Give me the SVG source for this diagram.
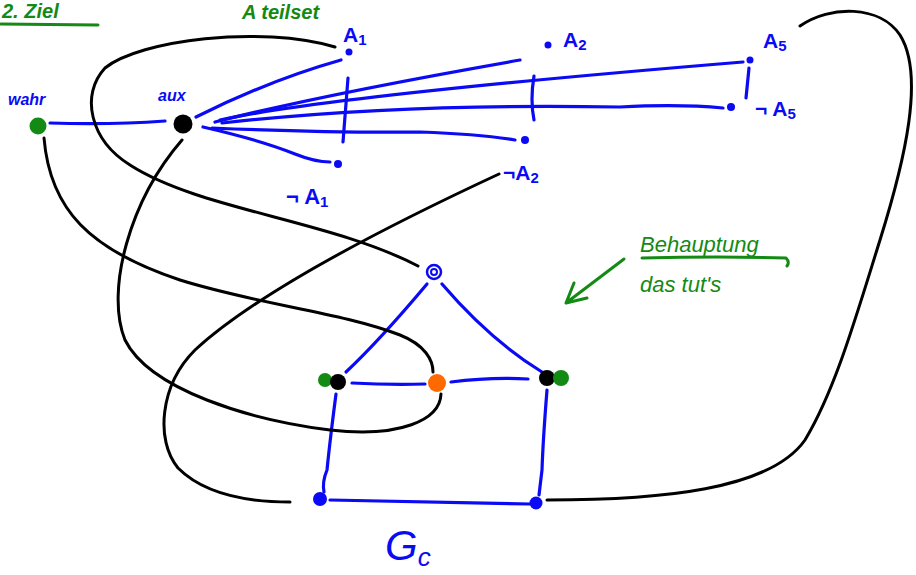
<svg xmlns="http://www.w3.org/2000/svg" width="916" height="575" viewBox="0 0 916 575">
<defs>
<style>
.b{fill:none;stroke:#0a0af5;stroke-width:3.2;stroke-linecap:round;stroke-linejoin:round}
.k{fill:none;stroke:#000;stroke-width:3;stroke-linecap:round}
.g{fill:none;stroke:#138a13;stroke-width:3;stroke-linecap:round;stroke-linejoin:round}
.tb{fill:#0a0af5;font-family:"Liberation Sans",Arial,sans-serif}
.tg{fill:#138a13;font-family:"Liberation Sans",Arial,sans-serif;font-style:italic}
.dot{fill:#0a0af5}
</style>
</defs>
<rect width="916" height="575" fill="#fff"/>

<!-- top notes -->
<g id="note-ziel">
<text class="tg" x="2" y="18" font-size="20" font-weight="bold">2. Ziel</text>
<path class="g" d="M1 24 L98 25"/>
</g>
<g id="note-teilset">
<text class="tg" x="242" y="19" font-size="20" font-weight="bold">A teilset</text>
</g>

<!-- connectors -->
<g id="connectors">
<!-- blue edges from aux -->
<path class="b" d="M50 123 Q110 125 165 121"/>
<path class="b" d="M196 117 Q270 80 341 60"/>
<path class="b" d="M203 127 Q260 140 295 154 Q315 162 330 162"/>
<path class="b" d="M215 122 Q320 95 520 60"/>
<path class="b" d="M220 120 Q330 96 743 62"/>
<path class="b" d="M222 123 Q400 103 620 107 Q680 104 723 108"/>
<path class="b" d="M212 128 Q330 133 420 132 Q480 134 515 140"/>
<!-- separators -->
<path class="b" d="M348 78 L343 142"/>
<path class="b" d="M534 76 Q530 100 534 120"/>
<path class="b" d="M749 68 L746 98"/>
<!-- house edges -->
<path class="b" d="M427 284 Q380 340 346 372"/>
<path class="b" d="M442 284 Q490 340 542 372"/>
<path class="b" d="M352 383 Q390 385 425 384"/>
<path class="b" d="M451 382 Q490 377 528 379"/>
<path class="b" d="M336 394 Q330 440 327 470 Q322 482 324 492"/>
<path class="b" d="M547 390 Q543 440 542 470 L539 495"/>
<path class="b" d="M330 500 Q430 502 530 504"/>
<!-- black curves -->
<path class="k" d="M335 47 C260 25 140 40 105 68 C80 95 90 140 130 165 C200 210 330 220 418 266"/>
<path class="k" d="M44 138 C50 210 90 250 180 280 C260 305 340 312 400 335 C425 345 433 360 433 372"/>
<path class="k" d="M182 140 C130 200 105 290 125 340 C150 390 250 420 330 430 C400 438 440 420 441 394"/>
<path class="k" d="M499 174 C400 220 260 290 195 350 C160 385 155 440 178 468 C205 495 250 502 290 502"/>
<path class="k" d="M800 26 C830 5 880 5 900 35 C925 75 905 160 880 240 C855 320 835 390 805 440 C770 490 660 500 547 500"/>
<!-- green arrow -->
<path class="g" d="M624 259 L566 303 M566 303 L574 283 M566 303 L587 298"/>
<path class="g" d="M642 258 Q720 256 786 258 Q790 262 787 266"/>
</g>

<!-- nodes -->
<g id="wahr">
<circle cx="38" cy="126" r="8.5" fill="#138a13"/>
<text class="tb" x="8" y="105" font-size="16" font-style="italic" font-weight="bold">wahr</text>
</g>
<g id="aux">
<circle cx="183" cy="124" r="9.5" fill="#000"/>
<text class="tb" x="158" y="101" font-size="16" font-style="italic" font-weight="bold">aux</text>
</g>
<g id="A1">
<circle class="dot" cx="349" cy="52" r="3.5"/>
<text class="tb" x="343" y="42" font-size="21" font-weight="bold">A<tspan font-size="15" dy="3">1</tspan></text>
</g>
<g id="notA1">
<circle class="dot" cx="338" cy="164" r="4"/>
<text class="tb" x="286" y="204" font-size="22" font-weight="bold">¬ A<tspan font-size="15" dy="3">1</tspan></text>
</g>
<g id="A2">
<circle class="dot" cx="548" cy="45" r="3.5"/>
<text class="tb" x="563" y="47" font-size="21" font-weight="bold">A<tspan font-size="15" dy="3">2</tspan></text>
</g>
<g id="notA2">
<circle class="dot" cx="525" cy="140" r="4"/>
<text class="tb" x="503" y="180" font-size="21" font-weight="bold">¬A<tspan font-size="15" dy="3">2</tspan></text>
</g>
<g id="A5">
<circle class="dot" cx="750" cy="60" r="3.5"/>
<text class="tb" x="763" y="48" font-size="21" font-weight="bold">A<tspan font-size="15" dy="3">5</tspan></text>
</g>
<g id="notA5">
<circle class="dot" cx="731" cy="107" r="4"/>
<text class="tb" x="755" y="116" font-size="21" font-weight="bold">¬ A<tspan font-size="15" dy="3">5</tspan></text>
</g>
<g id="house-top">
<circle cx="434" cy="272" r="7" fill="none" stroke="#0a0af5" stroke-width="2.5"/>
<circle cx="434" cy="272" r="3" fill="none" stroke="#0a0af5" stroke-width="2"/>
</g>
<g id="house-left">
<circle cx="325" cy="380" r="7" fill="#138a13"/>
<circle cx="338" cy="382" r="8" fill="#000"/>
</g>
<g id="house-mid">
<circle cx="437" cy="383" r="9" fill="#ff6a00"/>
</g>
<g id="house-right">
<circle cx="547" cy="378" r="8" fill="#000"/>
<circle cx="561" cy="378" r="8" fill="#138a13"/>
</g>
<g id="house-bl">
<circle cx="320" cy="499" r="7" fill="#0a0af5"/>
</g>
<g id="house-br">
<circle cx="536" cy="503" r="6.5" fill="#0a0af5"/>
</g>
<g id="gc-label">
<text class="tb" x="385" y="560" font-size="42" font-style="italic">G<tspan font-size="26" dy="6">c</tspan></text>
</g>
<g id="claim">
<text class="tg" x="640" y="252" font-size="22">Behauptung</text>
<text class="tg" x="640" y="292" font-size="22">das tut's</text>
</g>
</svg>
